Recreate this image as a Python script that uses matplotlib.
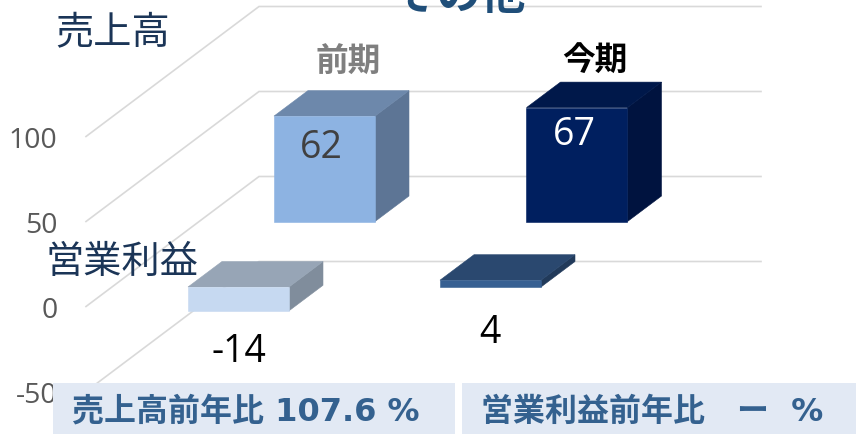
import matplotlib
matplotlib.use("Agg")
import matplotlib.pyplot as plt
from matplotlib.patches import Polygon, Rectangle
from matplotlib.transforms import Affine2D

# ---- data ----
title = "その他"
periods = ["前期", "今期"]
rows = ["売上高", "営業利益"]
sales = [62, 67]
profit = [-14, 4]
yticks = [100, 50, 0, -50]
footers = ["売上高前年比 107.6 %", "営業利益前年比　ー  %"]

# ---- styling ----
JP = "Noto Sans CJK JP"
W, H = 856, 435
fig = plt.figure(figsize=(W / 100, H / 100), dpi=100, facecolor="white")
ax = fig.add_axes([0, 0, 1, 1])
PX_PER_UNIT = 1.7
Y0 = 307.5
ax.set_xlim(0, W)
ax.set_ylim((Y0 - H) / PX_PER_UNIT, Y0 / PX_PER_UNIT)
ax.axis("off")
px = Affine2D().scale(1 / W, -1 / H).translate(0, 1) + fig.transFigure

DX, DU = 34.0, 25.5 / PX_PER_UNIT      # bar depth (x px, value units)
BACK_DX, BACK_DU = 173.0, 130 / PX_PER_UNIT  # floor depth
GRID_R = 761
GRID = "#D9D9D9"

for v in yticks:
    ax.plot([86, 86 + BACK_DX, GRID_R], [v, v + BACK_DU, v + BACK_DU],
            color=GRID, lw=1.2, zorder=1, solid_joinstyle="miter")
    ax.text(57.5, v - 3.5 / PX_PER_UNIT, str(v), ha="right", va="center", color="#595959",
            fontsize=20.5, family="Open Sans", zorder=1.5)


def bar3d(x, base, v, front, top, side, edge=None):
    w = 101.0
    lo, hi = min(base, base + v), max(base, base + v)
    ax.add_patch(Polygon([(x + w, lo), (x + w + DX, lo + DU), (x + w + DX, hi + DU), (x + w, hi)],
                         fc=side, ec=side, lw=0.4, zorder=3))
    ax.add_patch(Polygon([(x, hi), (x + DX, hi + DU), (x + w + DX, hi + DU), (x + w, hi)],
                         fc=top, ec=top, lw=0.4, zorder=3))
    ax.add_patch(Rectangle((x, lo), w, hi - lo, fc=front, ec=front, lw=0.4, zorder=4))


sales_base = (Y0 - 222.5) / PX_PER_UNIT
profit_base = (Y0 - 288) / PX_PER_UNIT
sales_style = [("#8DB3E2", "#6D88AB", "#5D7595"), ("#001F5F", "#00184A", "#00133F")]
profit_style = [("#C6D9F1", "#97A5B6", "#808D9C"), ("#376092", "#2A486F", "#213A5A")]
sales_x = [274, 526.5]
profit_x = [188, 440]
for x, v, st in zip(sales_x, sales, sales_style):
    bar3d(x, sales_base, v, *st)
for x, v, st in zip(profit_x, profit, profit_style):
    bar3d(x, profit_base, v, *st)

# labels in pixel coordinates
def t(x, y, s, **kw):
    kw.setdefault("transform", px)
    kw.setdefault("zorder", 6)
    kw.setdefault("va", "center")
    kw.setdefault("ha", "center")
    return ax.text(x, y, s, **kw)

NUM = "Open Sans"
t(321, 148, str(sales[0]), color="#404040", fontsize=27, family=NUM)
t(574.5, 135, str(sales[1]), color="white", fontsize=27, family=NUM)
t(238.5, 352, str(profit[0]), color="black", fontsize=27, family=NUM)
t(490, 333, str(profit[1]), color="black", fontsize=27, family=NUM)

t(348, 62, periods[0], color="#7F7F7F", fontsize=23.5, family=JP, weight="bold")
t(594.5, 60, periods[1], color="black", fontsize=23.5, family=JP, weight="bold")
t(113, 34, rows[0], color="#1B3557", fontsize=27.5, family=JP)
t(122.5, 262, rows[1], color="#1B3557", fontsize=27.5, family=JP)

t(459, -4, title, color="#1F4E79", fontsize=32, family=JP, weight="bold", clip_on=False)

# footer boxes
BOX = "#E2E9F4"
ax.add_patch(Rectangle((53, 384), 402, 51, fc=BOX, ec="none", transform=px, zorder=5))
ax.add_patch(Rectangle((462, 384), 394, 51, fc=BOX, ec="none", transform=px, zorder=5))
FOOT = "#34618F"
fam = ["DejaVu Sans", JP]
t(72.5, 412, footers[0], color=FOOT, fontsize=23.0, family=fam, weight="bold", ha="left")
t(481, 412, footers[1], color=FOOT, fontsize=23.0, family=fam, weight="bold", ha="left")

fig.savefig("out.png", dpi=100, facecolor="white")
